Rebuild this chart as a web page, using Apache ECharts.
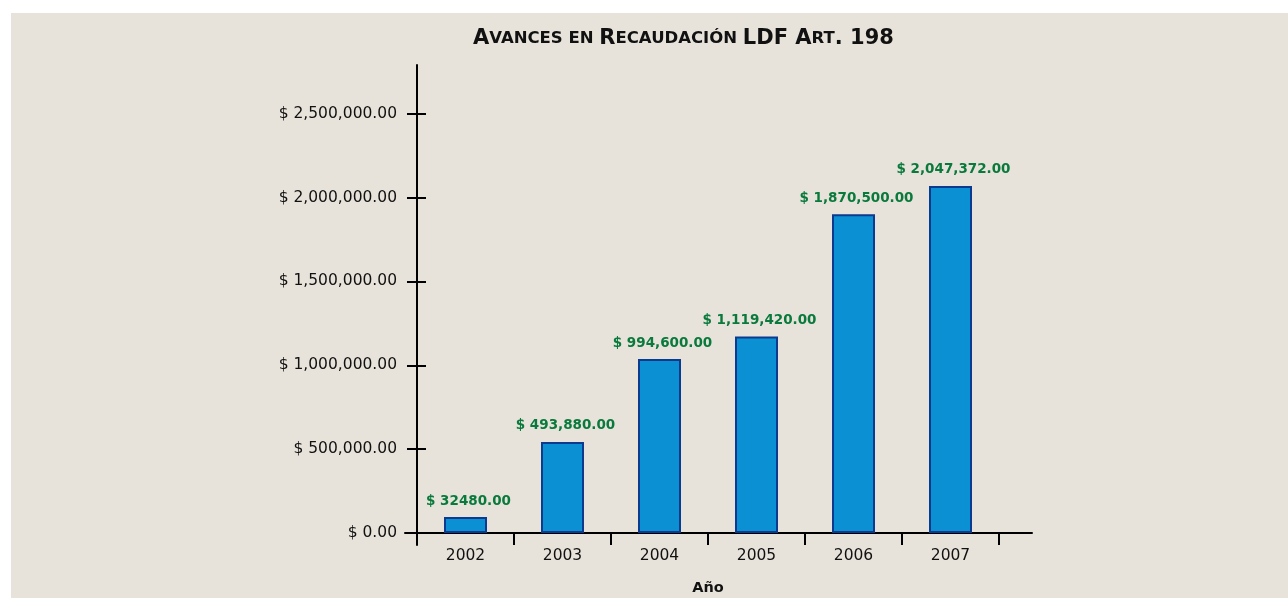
<!DOCTYPE html>
<html>
<head>
<meta charset="utf-8">
<script src="https://cdn.jsdelivr.net/npm/echarts@6/dist/echarts.min.js"></script>
<style>
  html, body { margin: 0; padding: 0; background: #ffffff; }
  #paper { position: absolute; left: 11px; top: 13px; width: 1277px; height: 585px; background: #e8e3da; }
  #chart-container { position: absolute; left: 0; top: 0; width: 1288px; height: 598px; }
</style>
</head>
<body>
<div id="paper"></div>
<div id="chart-container"></div>
<script>
var myChart = echarts.init(document.getElementById('chart-container'));

// --- Data ---
const years = ['2002', '2003', '2004', '2005', '2006', '2007'];
// bar heights as drawn in the picture
const barValues = [95000, 543000, 1037000, 1171000, 1900000, 2069000];
// amounts printed above the bars
const barLabels = ['$ 32480.00', '$ 493,880.00', '$ 994,600.00', '$ 1,119,420.00', '$ 1,870,500.00', '$ 2,047,372.00'];
const yTicks = [0, 500000, 1000000, 1500000, 2000000, 2500000];

const yMax = 2790000;
const fontFamily = 'DejaVu Sans';

function money(v) {
    if (v === 0) return '$ 0.00';
    return '$ ' + v.toLocaleString('en-US') + '.00';
}

const option = {
    backgroundColor: 'transparent',
    textStyle: { fontFamily: fontFamily },
    title: {
        left: 468,
        top: 23,
        text: '{b|A}{s|VANCES EN }{b|R}{s|ECAUDACIÓN }{b|LDF A}{s|RT}{b|. 198}',
        textStyle: {
            rich: {
                b: { fontSize: 21, fontWeight: 'bold', color: '#111', fontFamily: fontFamily },
                s: { fontSize: 16.5, fontWeight: 'bold', color: '#111', fontFamily: fontFamily }
            }
        }
    },
    grid: [
        // main plot
        { left: 417, right: 289, top: 65, bottom: 65, containLabel: false, outerBoundsMode: 'none' },
        // y axis line running below zero
        { left: 417, width: 10, top: 65, bottom: 53, containLabel: false, outerBoundsMode: 'none' },
        // x axis line running past the plot
        { left: 405, right: 256, top: 65, bottom: 65, containLabel: false, outerBoundsMode: 'none' }
    ],
    xAxis: [
        {
            type: 'category', gridIndex: 0, data: years,
            axisLine: { show: false },
            axisTick: { show: true, alignWithLabel: false, length: 12, lineStyle: { color: '#000', width: 2 } },
            axisLabel: { color: '#111', fontSize: 15.5, margin: 15 },
            name: 'Año', nameLocation: 'middle', nameGap: 48,
            nameTextStyle: { fontSize: 14.5, fontWeight: 'bold', color: '#111' }
        },
        { type: 'value', gridIndex: 1, show: false },
        {
            type: 'value', gridIndex: 2, min: 0, max: 1,
            axisLine: { show: true, lineStyle: { color: '#000', width: 2 } },
            axisTick: { show: false }, axisLabel: { show: false }, splitLine: { show: false }
        }
    ],
    yAxis: [
        {
            type: 'value', gridIndex: 0, min: 0, max: yMax,
            axisLine: { show: false },
            axisTick: { show: true, length: 10, customValues: yTicks, lineStyle: { color: '#000', width: 2 } },
            axisLabel: { color: '#111', fontSize: 15.5, margin: 20, customValues: yTicks, formatter: money },
            splitLine: { show: false }
        },
        {
            type: 'value', gridIndex: 0, min: 0, max: yMax, position: 'left',
            axisLine: { show: false },
            axisTick: { show: true, inside: true, length: 9, customValues: yTicks, lineStyle: { color: '#000', width: 2 } },
            axisLabel: { show: false }, splitLine: { show: false }
        },
        {
            type: 'value', gridIndex: 1, min: 0, max: 1,
            axisLine: { show: true, lineStyle: { color: '#000', width: 2 } },
            axisTick: { show: false }, axisLabel: { show: false }, splitLine: { show: false }
        },
        { type: 'value', gridIndex: 2, show: false }
    ],
    series: [{
        type: 'bar',
        xAxisIndex: 0,
        yAxisIndex: 0,
        data: barValues,
        barWidth: 43,
        itemStyle: { color: '#0b90d4', borderColor: '#0b3a8e', borderWidth: 2 },
        label: {
            show: true,
            position: 'top',
            distance: 9,
            offset: [3, 0],
            color: '#0a7a3c',
            fontWeight: 'bold',
            fontSize: 13.5,
            formatter: function (p) { return barLabels[p.dataIndex]; }
        }
    }]
};

myChart.setOption(option);

window.addEventListener('resize', function() {
    myChart.resize();
});
</script>
</body>
</html>
